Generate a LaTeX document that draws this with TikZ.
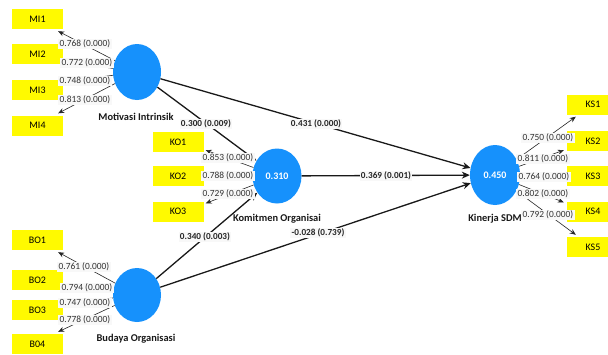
\documentclass[tikz,border=0pt]{standalone}
\usepackage{fontspec}
\setmainfont{Carlito}
\usetikzlibrary{arrows.meta,calc,shapes.geometric}
\definecolor{plsblue}{RGB}{22,145,252}
\definecolor{plsyellow}{RGB}{255,250,0}
\definecolor{lblfill}{RGB}{248,248,248}
\definecolor{lbltext}{RGB}{50,50,50}
\tikzset{
  lv/.style={ellipse,fill=plsblue,draw=none,minimum width=48pt,minimum height=56pt,inner sep=0pt,text=white,font=\fontsize{10}{11}\selectfont\bfseries},
  ind/.style={rectangle,fill=plsyellow,draw=none,minimum width=51pt,minimum height=20pt,inner sep=0pt,font=\fontsize{10}{11}\selectfont},
  load/.style={draw=black!85,line width=0.6pt,-{Stealth[length=6pt,width=5pt]}},
  pth/.style={draw=black!90,line width=1.3pt,-{Stealth[length=8pt,width=7pt]}},
  lbl/.style={fill=lblfill,inner sep=1.3pt,text=lbltext,font=\fontsize{9.4}{10}\selectfont},
  plbl/.style={fill=lblfill,inner sep=1.3pt,text=black!85,font=\fontsize{9.2}{10}\selectfont\bfseries},
  nm/.style={font=\fontsize{10.4}{11}\selectfont\bfseries,text=black!90}
}
\begin{document}
\begin{tikzpicture}[x=1pt,y=-1pt]
\useasboundingbox (0,0) rectangle (608,354);
\fill[white] (0,0) rectangle (608,354);
% latent variables
\node[lv] (mi) at (137,72) {};
\node[lv,minimum width=49pt,minimum height=55pt] (ko) at (277,176) {0.310};
\node[lv,minimum height=54pt] (bo) at (137,295) {};
\node[lv,minimum width=50pt,minimum height=60pt] (ks) at (495,175) {0.450};
\node[nm] (minm) at (136,117) {Motivasi Intrinsik};
\node[nm] (konm) at (277,219) {Komitmen Organisai};
\node[nm] (bonm) at (136,339) {Budaya Organisasi};
\node[nm] (ksnm) at (495,219) {Kinerja SDM};
% indicators
\node[ind] (mi1) at (37.5,19) {MI1};
\node[ind] (mi2) at (37.5,54) {MI2};
\node[ind] (mi3) at (37.5,90) {MI3};
\node[ind] (mi4) at (37.5,125.5) {MI4};
\node[ind] (ko1) at (178,142) {KO1};
\node[ind] (ko2) at (178,176) {KO2};
\node[ind] (ko3) at (178,211.5) {KO3};
\node[ind] (bo1) at (37.5,240) {BO1};
\node[ind] (bo2) at (37.5,280) {BO2};
\node[ind] (bo3) at (37.5,310) {BO3};
\node[ind] (bo4) at (37.5,344) {B04};
\node[ind,minimum width=41pt] (ks1) at (587.5,104.5) {\hspace*{11pt}KS1};
\node[ind,minimum width=41pt] (ks2) at (587.5,141) {\hspace*{11pt}KS2};
\node[ind,minimum width=41pt] (ks3) at (587.5,176) {\hspace*{11pt}KS3};
\node[ind,minimum width=41pt] (ks4) at (587.5,211.5) {\hspace*{11pt}KS4};
\node[ind,minimum width=41pt] (ks5) at (587.5,247) {\hspace*{11pt}KS5};
% loadings
\draw[load] (mi) -- ($(mi1.south east)+(-5,2)$);
\draw[load] (mi) -- ($(mi2.east)+(0,7)$);
\draw[load] (mi) -- ($(mi3.east)+(0,-8)$);
\draw[load] (mi) -- ($(mi4.north east)+(-5,-2)$);
\draw[load] (ko) -- ($(ko1.south east)+(2,-2)$);
\draw[load] (ko) -- ($(ko2.east)+(1,0)$);
\draw[load] (ko) -- ($(ko3.north east)+(2,2)$);
\draw[load] (bo) -- ($(bo1.south east)+(-5,2)$);
\draw[load] (bo) -- ($(bo2.east)+(0,7)$);
\draw[load] (bo) -- ($(bo3.east)+(0,-6)$);
\draw[load] (bo) -- ($(bo4.north east)+(-5,-2)$);
\draw[load] (ks) -- ($(ks1.south west)+(9,2)$);
\draw[load] (ks) -- ($(ks2.south west)+(-3,-1)$);
\draw[load] (ks) -- ($(ks3.west)+(-2,0)$);
\draw[load] (ks) -- ($(ks4.north west)+(-3,1)$);
\draw[load] (ks) -- ($(ks5.north west)+(9,-2)$);
% structural paths
\draw[pth] (mi) -- (ks);
\draw[pth] (ko) -- (ks);
\draw[pth] (bo) -- (ks);
\draw[pth] (mi) -- (ko);
\draw[pth] (bo) -- (ko);
% loading labels
\node[lbl] (l1) at (85,44) {0.768 (0.000)};
\node[lbl] (l2) at (87,63) {0.772 (0.000)};
\node[lbl] (l3) at (85,81) {0.748 (0.000)};
\node[lbl] (l4) at (85,100) {0.813 (0.000)};
\node[lbl] (l5) at (228,158) {0.853 (0.000)};
\node[lbl] (l6) at (228,176) {0.788 (0.000)};
\node[lbl] (l7) at (228,194) {0.729 (0.000)};
\node[lbl] (l8) at (84,267) {0.761 (0.000)};
\node[lbl] (l9) at (87,288) {0.794 (0.000)};
\node[lbl] (l10) at (85,303) {0.747 (0.000)};
\node[lbl] (l11) at (85,320) {0.778 (0.000)};
\node[lbl] (l12) at (548,138) {0.750 (0.000)};
\node[lbl] (l13) at (543,159) {0.811 (0.000)};
\node[lbl] (l14) at (544,177) {0.764 (0.000)};
\node[lbl] (l15) at (543,194) {0.802 (0.000)};
\node[lbl] (l16) at (548,215) {0.792 (0.000)};
% path labels
\node[plbl] (p1) at (316,124) {0.431 (0.000)};
\node[plbl] (p2) at (386,176) {0.369 (0.001)};
\node[plbl] (p3) at (318,233) {-0.028 (0.739)};
\node[plbl] (p4) at (206,124) {0.300 (0.009)};
\node[plbl] (p5) at (205,237) {0.340 (0.003)};
\end{tikzpicture}
\end{document}
